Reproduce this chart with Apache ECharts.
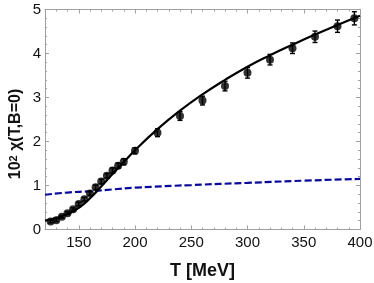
<!DOCTYPE html>
<html><head><meta charset="utf-8">
<script src="https://cdn.jsdelivr.net/npm/echarts@6/dist/echarts.min.js"></script>
<style>html,body{margin:0;padding:0;background:#fff}#c{width:374px;height:283px}</style>
</head><body><div id="c"></div>
<script>
var latticeT = [125,130,135,140,145,150,155,160,165,170,175,180,185,190,200,220,240,260,280,300,320,340,360,380,395];
var latticeChi = [0.18,0.21,0.29,0.37,0.46,0.58,0.69,0.82,0.96,1.09,1.22,1.34,1.45,1.54,1.79,2.20,2.58,2.93,3.26,3.56,3.86,4.12,4.38,4.62,4.80];
var latticeErr = [0.03,0.03,0.03,0.03,0.03,0.04,0.04,0.04,0.05,0.05,0.05,0.06,0.06,0.07,0.07,0.09,0.10,0.10,0.11,0.12,0.12,0.12,0.13,0.14,0.15];
var fitT = [120,130,140,150,160,170,180,190,200,220,240,260,280,300,320,340,360,380,400];
var fitChi = [0.20,0.26,0.35,0.49,0.71,0.98,1.26,1.53,1.80,2.28,2.70,3.07,3.40,3.70,3.96,4.20,4.43,4.65,4.86];
var dashT = [120,140,160,180,200,250,300,350,400];
var dashChi = [0.79,0.84,0.87,0.91,0.95,1.01,1.06,1.11,1.15];
var xMajor = [150,200,250,300,350,400];
var xMinor = [];
for (var t = 120; t <= 400; t += 10) xMinor.push(t);
var yTitle = '{a|10}{s|2}{a| χ(T,B=0)}';

var frame = '#a0a0a0';
var lab = {fontFamily:'Liberation Sans', fontSize:15, color:'#111'};
function xAx(pos, labels, ticks, len, show){
  return {type:'value', min:120, max:400, position:pos,
    axisLine:{show:show, lineStyle:{color:frame, width:1}},
    axisTick:{show:true, inside:true, length:len, customValues:ticks, lineStyle:{color:frame}},
    axisLabel:labels ? Object.assign({show:true, customValues:xMajor, margin:6}, lab) : {show:false},
    splitLine:{show:false}};
}
var chart = echarts.init(document.getElementById('c'));
chart.setOption({
  animation:false,
  grid:{left:45, right:14, top:9.5, bottom:53.5, containLabel:false, outerBoundsMode:'none'},
  graphic:[{type:'text', x:16, y:134, rotation:Math.PI/2,
    style:{text:yTitle, align:'center', verticalAlign:'middle',
      rich:{
        a:{fontFamily:'Liberation Sans', fontSize:16, fontWeight:'bold', fill:'#111'},
        s:{fontFamily:'Liberation Sans', fontSize:11, fontWeight:'bold', fill:'#111', verticalAlign:'top'}}}}],
  xAxis:[
    Object.assign(xAx('bottom', true, xMajor, 4, true), {name:'T [MeV]', nameLocation:'middle', nameGap:33,
      nameTextStyle:{fontFamily:'Liberation Sans', fontSize:18, fontWeight:'bold', color:'#111'}}),
    xAx('bottom', false, xMinor, 2, false),
    xAx('top', false, xMajor, 4, true),
    xAx('top', false, xMinor, 2, false)
  ],
  yAxis:[
    {type:'value', min:0, max:5, interval:1, position:'left',
      axisLine:{show:true, lineStyle:{color:frame}},
      axisTick:{show:true, inside:true, length:4, lineStyle:{color:frame}},
      minorTick:{show:true, splitNumber:5, length:2, lineStyle:{color:frame}},
      axisLabel:Object.assign({margin:4}, lab),
      splitLine:{show:false}},
    {type:'value', min:0, max:5, interval:1, position:'right',
      axisLine:{show:true, lineStyle:{color:frame}},
      axisTick:{show:true, inside:true, length:4, lineStyle:{color:frame}},
      minorTick:{show:true, splitNumber:5, length:2, lineStyle:{color:frame}},
      axisLabel:{show:false}, splitLine:{show:false}}
  ],
  series:[
    {type:'line', data:dashT.map(function(t,i){return [t,dashChi[i]];}), smooth:true, showSymbol:false,
      lineStyle:{color:'#0a0a9a', width:2.2, type:[7,3]}, z:2},
    {type:'line', data:fitT.map(function(t,i){return [t,fitChi[i]];}), smooth:true, showSymbol:false,
      lineStyle:{color:'#000', width:2.2}, z:3},
    {type:'custom', data:latticeT.map(function(t,i){return [t,latticeChi[i],latticeErr[i]];}), z:4,
      renderItem:function(params, api){
        var x = api.value(0), y = api.value(1), e = api.value(2);
        var p1 = api.coord([x, y+e]), p2 = api.coord([x, y-e]);
        var w = 2.5, st = {stroke:'#000', lineWidth:1.4};
        return {type:'group', children:[
          {type:'line', shape:{x1:p1[0], y1:p1[1], x2:p2[0], y2:p2[1]}, style:st},
          {type:'line', shape:{x1:p1[0]-w, y1:p1[1], x2:p1[0]+w, y2:p1[1]}, style:st},
          {type:'line', shape:{x1:p2[0]-w, y1:p2[1], x2:p2[0]+w, y2:p2[1]}, style:st}
        ]};
      }},
    {type:'scatter', data:latticeT.map(function(t,i){return [t,latticeChi[i]];}), symbol:'circle', symbolSize:8,
      itemStyle:{color:'#000'}, z:5}
  ]
});
</script></body></html>
